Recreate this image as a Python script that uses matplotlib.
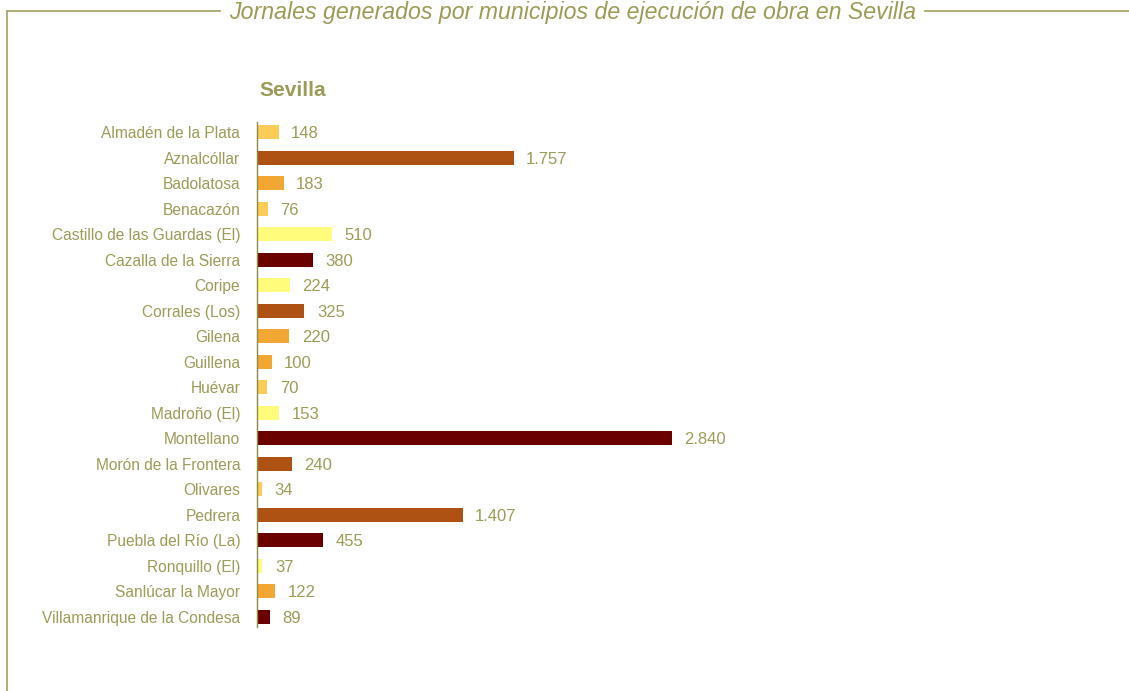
import matplotlib.pyplot as plt
from matplotlib.lines import Line2D
from matplotlib import font_manager

municipios = [
    "Almadén de la Plata", "Aznalcóllar", "Badolatosa", "Benacazón",
    "Castillo de las Guardas (El)", "Cazalla de la Sierra", "Coripe",
    "Corrales (Los)", "Gilena", "Guillena", "Huévar", "Madroño (El)",
    "Montellano", "Morón de la Frontera", "Olivares", "Pedrera",
    "Puebla del Río (La)", "Ronquillo (El)", "Sanlúcar la Mayor",
    "Villamanrique de la Condesa",
]
jornales = [148, 1757, 183, 76, 510, 380, 224, 325, 220, 100, 70, 153,
            2840, 240, 34, 1407, 455, 37, 122, 89]
colores = ["#FBCD57", "#AD5213", "#F3A733", "#FBCD57", "#FFFC7C", "#6B0000",
           "#FFFC7C", "#AD5213", "#F3A733", "#F3A733", "#FBCD57", "#FFFC7C",
           "#6B0000", "#AD5213", "#FBCD57", "#AD5213", "#6B0000", "#FFFC7C",
           "#F3A733", "#6B0000"]

installed = {f.name for f in font_manager.fontManager.ttflist}
fam = [f for f in ["Liberation Sans Narrow", "Liberation Sans", "DejaVu Sans"] if f in installed]
plt.rcParams['font.family'] = fam

txt = "#9C9B57"
line_c = "#A9A76A"

fig = plt.figure(figsize=(11.29, 6.91), dpi=100)
ax = fig.add_axes([257 / 1129, 1 - 627 / 691, 843 / 1129, 505 / 691])

y = list(range(len(municipios)))
ax.barh(y, jornales, height=0.56, color=colores)
ax.set_ylim(len(municipios) - 0.6, -0.4)
ax.set_xlim(0, 843 / (415 / 2840))

for yi, v in zip(y, jornales):
    lab = f"{v:,}".replace(",", ".")
    ax.annotate(lab, (v, yi), xytext=(9, -1), textcoords="offset points",
                ha="left", va="center", fontsize=12, color=txt)

ax.set_yticks(y)
ax.set_yticklabels(municipios, fontsize=11.2, color=txt)
ax.tick_params(axis="y", length=0, pad=12)
ax.set_xticks([])
for s in ["top", "right", "bottom"]:
    ax.spines[s].set_visible(False)
ax.spines["left"].set_color("#8C8A45")
ax.spines["left"].set_linewidth(1)

fig.text(259 / 1129, 1 - 90 / 691, "Sevilla", fontsize=15, fontweight="bold",
         color=txt, ha="left", va="center")

# frame: top line with title gap, left line
fig.add_artist(Line2D([7 / 1129, 220 / 1129], [1 - 11 / 691, 1 - 11 / 691],
                      color=line_c, lw=1.3, transform=fig.transFigure))
fig.add_artist(Line2D([925 / 1129, 1.0], [1 - 11 / 691, 1 - 11 / 691],
                      color=line_c, lw=1.3, transform=fig.transFigure))
fig.add_artist(Line2D([7 / 1129, 7 / 1129], [0, 1 - 11 / 691],
                      color=line_c, lw=1.3, transform=fig.transFigure))
fig.text(573 / 1129, 1 - 13 / 691,
         "Jornales generados por municipios de ejecución de obra en Sevilla",
         fontsize=16.7, style="italic", color=txt, ha="center", va="center")

fig.savefig("out.png", dpi=100)
